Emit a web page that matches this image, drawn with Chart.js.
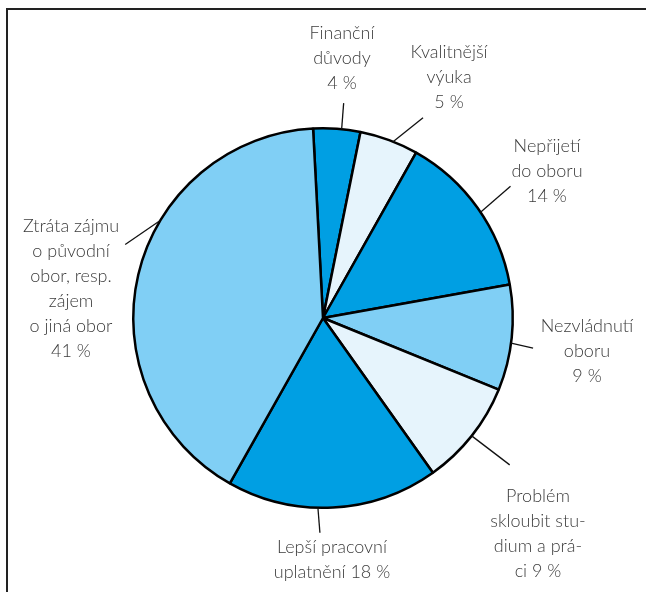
<!DOCTYPE html>
<html>
<head>
<meta charset="utf-8">
<script src="https://cdn.jsdelivr.net/npm/chart.js@4"></script>
<style>
  html, body { margin: 0; padding: 0; background: #fff; }
  #wrap { position: relative; width: 646px; height: 592px; }
</style>
</head>
<body>
<div id="wrap"><canvas id="chart" width="646" height="592"></canvas></div>
<script>
// reasons for leaving / switching a study programme
const categories = [
  ["Finanční", "důvody"],
  ["Kvalitnější", "výuka"],
  ["Nepřijetí", "do oboru"],
  ["Nezvládnutí", "oboru"],
  ["Problém", "skloubit stu-", "dium a prá-", "ci"],
  ["Lepší pracovní", "uplatnění"],
  ["Ztráta zájmu", "o původní", "obor, resp.", "zájem", "o jiná obor"],
];
const shares = [4, 5, 14, 9, 9, 18, 41];

const MID = "#009fe3";
const LIGHT = "#80cff5";
const PALE = "#e6f4fc";
const sliceColors = [MID, PALE, MID, LIGHT, PALE, MID, LIGHT];

// label placement: where on the slice the leader starts (0..1 of its angle),
// leader offset from that point, and the text block centre of the first line
const labelLayout = [
  { at: 0.6, dx: 2, dy: -26, tx: 342, ty: 33, join: "newline" },
  { at: 0.57, dx: 30, dy: -24, tx: 449, ty: 52, join: "newline" },
  { at: 0.53, dx: 30, dy: -26, tx: 547, ty: 146, join: "newline" },
  { at: 0.55, dx: 22, dy: 5, tx: 587, ty: 326, join: "newline" },
  { at: 0.5, dx: 38, dy: 29, tx: 538, ty: 496, join: "inline" },
  { at: 0.57, dx: 2, dy: 25, tx: 332, ty: 547, join: "inline" },
  { at: 0.62, dx: -35, dy: 24, tx: 71, ty: 226, join: "newline" },
];

const LINE_H = 25;
const FONT = "300 18px Lato, 'Open Sans', sans-serif";

const framePlugin = {
  id: "frame",
  beforeDraw(chart) {
    const ctx = chart.ctx;
    ctx.save();
    ctx.strokeStyle = "#222";
    ctx.lineWidth = 2;
    ctx.beginPath();
    ctx.moveTo(7, chart.height);
    ctx.lineTo(7, 9);
    ctx.lineTo(chart.width, 9);
    ctx.stroke();
    ctx.restore();
  }
};

const sliceLabels = {
  id: "sliceLabels",
  afterDraw(chart) {
    const ctx = chart.ctx;
    const arcs = chart.getDatasetMeta(0).data;
    ctx.save();
    ctx.font = FONT;
    ctx.fillStyle = "#3c3c3c";
    ctx.textAlign = "center";
    ctx.textBaseline = "middle";
    arcs.forEach((arc, i) => {
      const { x, y, startAngle, endAngle, outerRadius } = arc.getProps(
        ["x", "y", "startAngle", "endAngle", "outerRadius"], true);
      const L = labelLayout[i];
      const a = startAngle + (endAngle - startAngle) * L.at;
      const sx = x + Math.cos(a) * outerRadius;
      const sy = y + Math.sin(a) * outerRadius;

      ctx.strokeStyle = "#111";
      ctx.lineWidth = 1.3;
      ctx.beginPath();
      ctx.moveTo(sx, sy);
      ctx.lineTo(sx + L.dx, sy + L.dy);
      ctx.stroke();

      const pct = shares[i] + " %";
      const lines = categories[i].slice();
      if (L.join === "inline") {
        lines[lines.length - 1] += " " + pct;
      } else {
        lines.push(pct);
      }
      lines.forEach((t, k) => ctx.fillText(t, L.tx, L.ty + k * LINE_H));
    });
    ctx.restore();
  }
};

new Chart(document.getElementById("chart"), {
  type: "pie",
  data: {
    labels: categories.map(c => c.join(" ")),
    datasets: [{
      data: shares,
      backgroundColor: sliceColors,
      borderColor: "#000",
      borderWidth: 2.5,
    }]
  },
  options: {
    responsive: false,
    animation: false,
    rotation: -3,
    layout: { padding: { left: 132, right: 132, top: 127, bottom: 83 } },
    plugins: {
      legend: { display: false },
      tooltip: { enabled: false },
    }
  },
  plugins: [framePlugin, sliceLabels]
});
</script>
</body>
</html>
